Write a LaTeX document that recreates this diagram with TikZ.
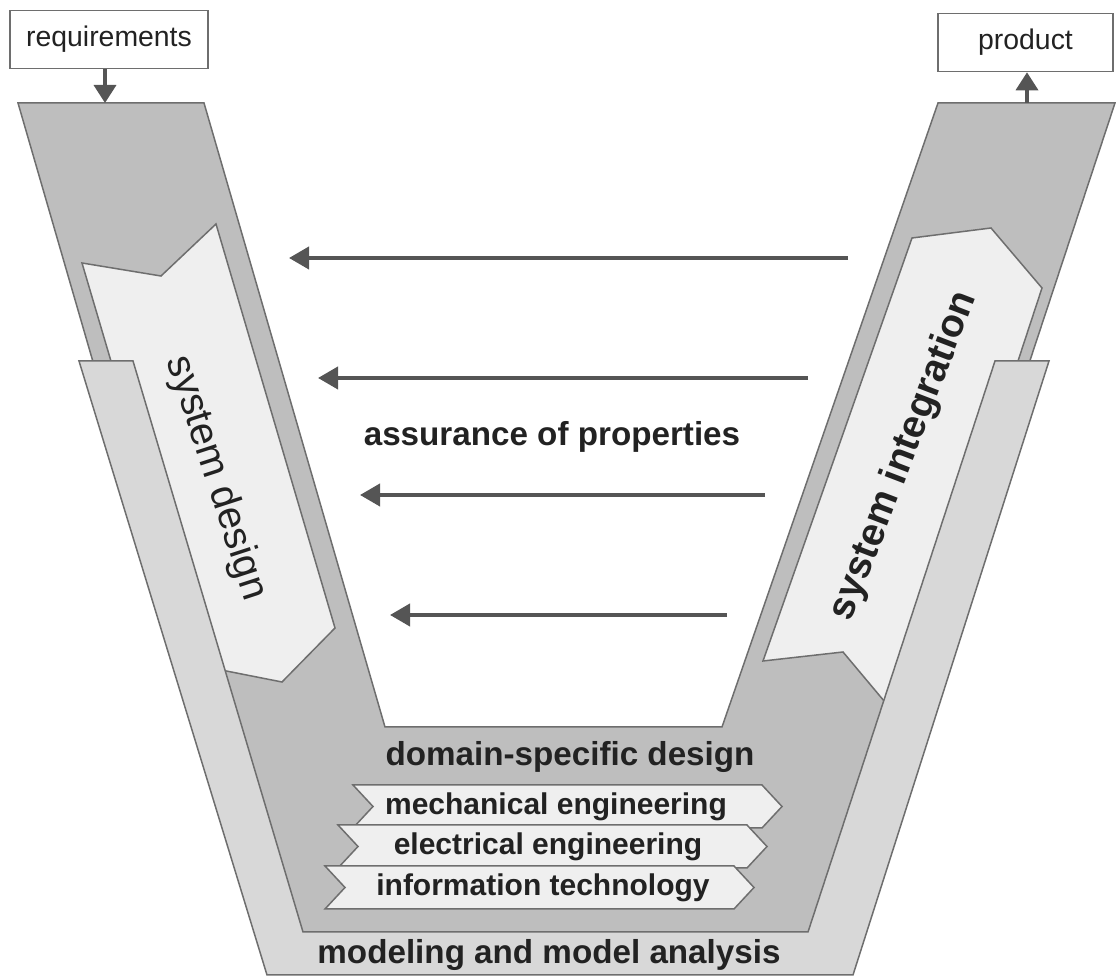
\documentclass[tikz,border=0pt]{standalone}
\usepackage{fontspec}
\setmainfont{Liberation Sans}
\usetikzlibrary{arrows.meta}

\definecolor{armgray}{HTML}{BEBEBE}
\definecolor{bandgray}{HTML}{D8D8D8}
\definecolor{paper}{HTML}{EFEFEF}
\definecolor{edgegray}{HTML}{6E6E6E}
\definecolor{arrowgray}{HTML}{555555}
\definecolor{inkgray}{HTML}{222222}

\tikzset{
  panel/.style={draw=edgegray,line width=0.75pt},
  flow/.style={draw=arrowgray,line width=2pt,-{Triangle[length=10pt,width=11pt]}},
  io/.style={draw=arrowgray,line width=1.8pt,-{Triangle[length=9pt,width=11pt]}},
  box/.style={draw=edgegray,fill=white,line width=0.8pt,minimum height=29pt,inner sep=0pt,
    text=inkgray,font=\fontsize{14.2}{17}\selectfont},
  heading/.style={text=inkgray,font=\bfseries\fontsize{16.6}{20}\selectfont},
  chevtext/.style={text=inkgray,font=\bfseries\fontsize{15}{18}\selectfont}
}

\begin{document}
\begin{tikzpicture}[x=0.5pt,y=-0.5pt]
\useasboundingbox (0,0) rectangle (1116,977);
% dark V
\draw[panel,fill=armgray] (18,103) -- (204,103) -- (385,727) -- (722,727) -- (938,103) -- (1115,103) -- (837,945) -- (262,945) -- cycle;
% arm arrows
\draw[panel,fill=paper] (82,263) -- (161,276) -- (216,224) -- (335,628) -- (282,682) -- (201,666) -- cycle;
\draw[panel,fill=paper] (763,661) -- (912,238) -- (991,228) -- (1042,288) -- (900,720) -- (843,652) -- cycle;
% light U band
\draw[panel,fill=bandgray] (79,361) -- (133,361) -- (303,932) -- (808,932) -- (995,361) -- (1049,361) -- (853,975) -- (267,975) -- cycle;
% domains
\foreach \name/\lx/\ty/\txt/\tx in {mech/353/785/mechanical engineering/556,
    elec/338/825/electrical engineering/548,
    info/325/866/information technology/543} {
  \draw[panel,fill=paper] (\lx,\ty) -- ++(409,0) -- ++(20,21.5) -- ++(-20,21.5) -- ++(-409,0) -- ++(20,-21.5) -- cycle;
  \node[chevtext] (\name) at (\tx,\ty+21.5) {\txt};
}
\node[heading] (domain) at (570,757) {domain-specific design};
\node[heading] (modeling) at (549,955) {modeling and model analysis};
\node[heading] (assurance) at (552,437) {assurance of properties};
\node[text=inkgray,font=\fontsize{19.9}{24}\selectfont,rotate=-72] (design) at (216,478) {system design};
\node[text=inkgray,font=\bfseries\fontsize{19.6}{24}\selectfont,rotate=69] (integration) at (904,456) {system integration};
% in and out
\node[box,minimum width=99pt] (req) at (109,39.5) {requirements};
\node[box,minimum width=87.5pt] (prod) at (1025.5,42.5) {product};
\coordinate (reqin) at (105,103);
\coordinate (prodout) at (1027,103);
\draw[io] (req.south -| reqin) -- (reqin);
\draw[io] (prodout) -- (prod.south -| prodout);
% assurance arrows
\foreach \i/\from/\to/\y in {1/848/289/258, 2/808/318/378, 3/765/360/495, 4/727/390/615} {
  \coordinate (a\i) at (\from,\y);
  \coordinate (b\i) at (\to,\y);
  \draw[flow] (a\i) -- (b\i);
}
\end{tikzpicture}
\end{document}
